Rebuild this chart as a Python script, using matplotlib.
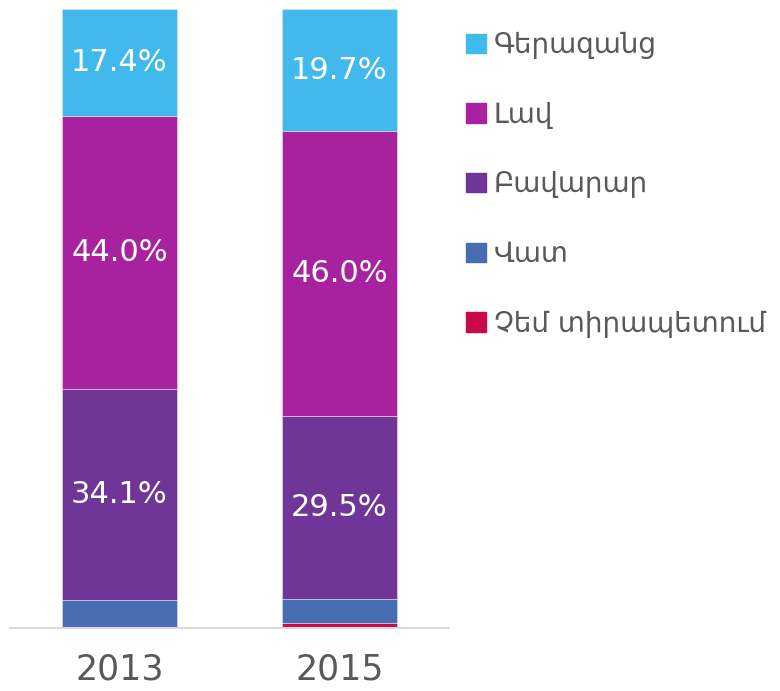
import numpy as np
import matplotlib.pyplot as plt
from matplotlib.patches import Patch

years = ['2013', '2015']
categories = ['Չեմ տիրապետում', 'Վատ', 'Բավարար', 'Լավ', 'Գերազանց']
values = {
    'Չեմ տիրապետում': [0.0, 0.7],
    'Վատ': [4.4, 3.9],
    'Բավարար': [34.1, 29.5],
    'Լավ': [44.0, 46.0],
    'Գերազանց': [17.4, 19.7],
}
labelled = ['Բավարար', 'Լավ', 'Գերազանց']
colors = {
    'Չեմ տիրապետում': '#C8094B',
    'Վատ': '#466DB2',
    'Բավարար': '#6F3698',
    'Լավ': '#A8229F',
    'Գերազանց': '#41B9EC',
}

plt.rcParams['font.family'] = ['DejaVu Sans']

fig = plt.figure(figsize=(7.8, 6.91), dpi=100)
ax = fig.add_axes([9.5 / 780, 1 - 627.5 / 691, 440 / 780, 619.5 / 691])

x = np.arange(len(years))
bottom = np.zeros(len(years))
for cat in categories:
    v = np.array(values[cat])
    ax.bar(x, v, 0.52, bottom=bottom, color=colors[cat],
           edgecolor='#e8e0ee', linewidth=0.4)
    if cat in labelled:
        for xi, b, vi in zip(x, bottom, v):
            ax.text(xi, b + vi / 2, f'{vi:.1f}%', ha='center', va='center',
                    color='white', fontsize=22)
    bottom += v

ax.set_xlim(-0.5, 1.5)
ax.set_ylim(0, 100)
ax.set_yticks([])
ax.set_xticks(x)
ax.set_xticklabels(years, fontsize=25, color='#595959')
ax.tick_params(axis='x', length=0, pad=18)
for s in ['top', 'right', 'left']:
    ax.spines[s].set_visible(False)
ax.spines['bottom'].set_color('#d9d9d9')
ax.spines['bottom'].set_linewidth(1.5)

handles = [Patch(color=colors[c]) for c in categories[::-1]]
leg = fig.legend(handles, categories[::-1], loc='upper left',
                 bbox_to_anchor=(455 / 780, 1 - 20 / 691), frameon=False,
                 fontsize=20, handlelength=0.7, handleheight=0.7,
                 handletextpad=0.3, labelspacing=1.5, borderaxespad=0)
for t in leg.get_texts():
    t.set_color('#595959')

fig.savefig('out.png', dpi=100)
